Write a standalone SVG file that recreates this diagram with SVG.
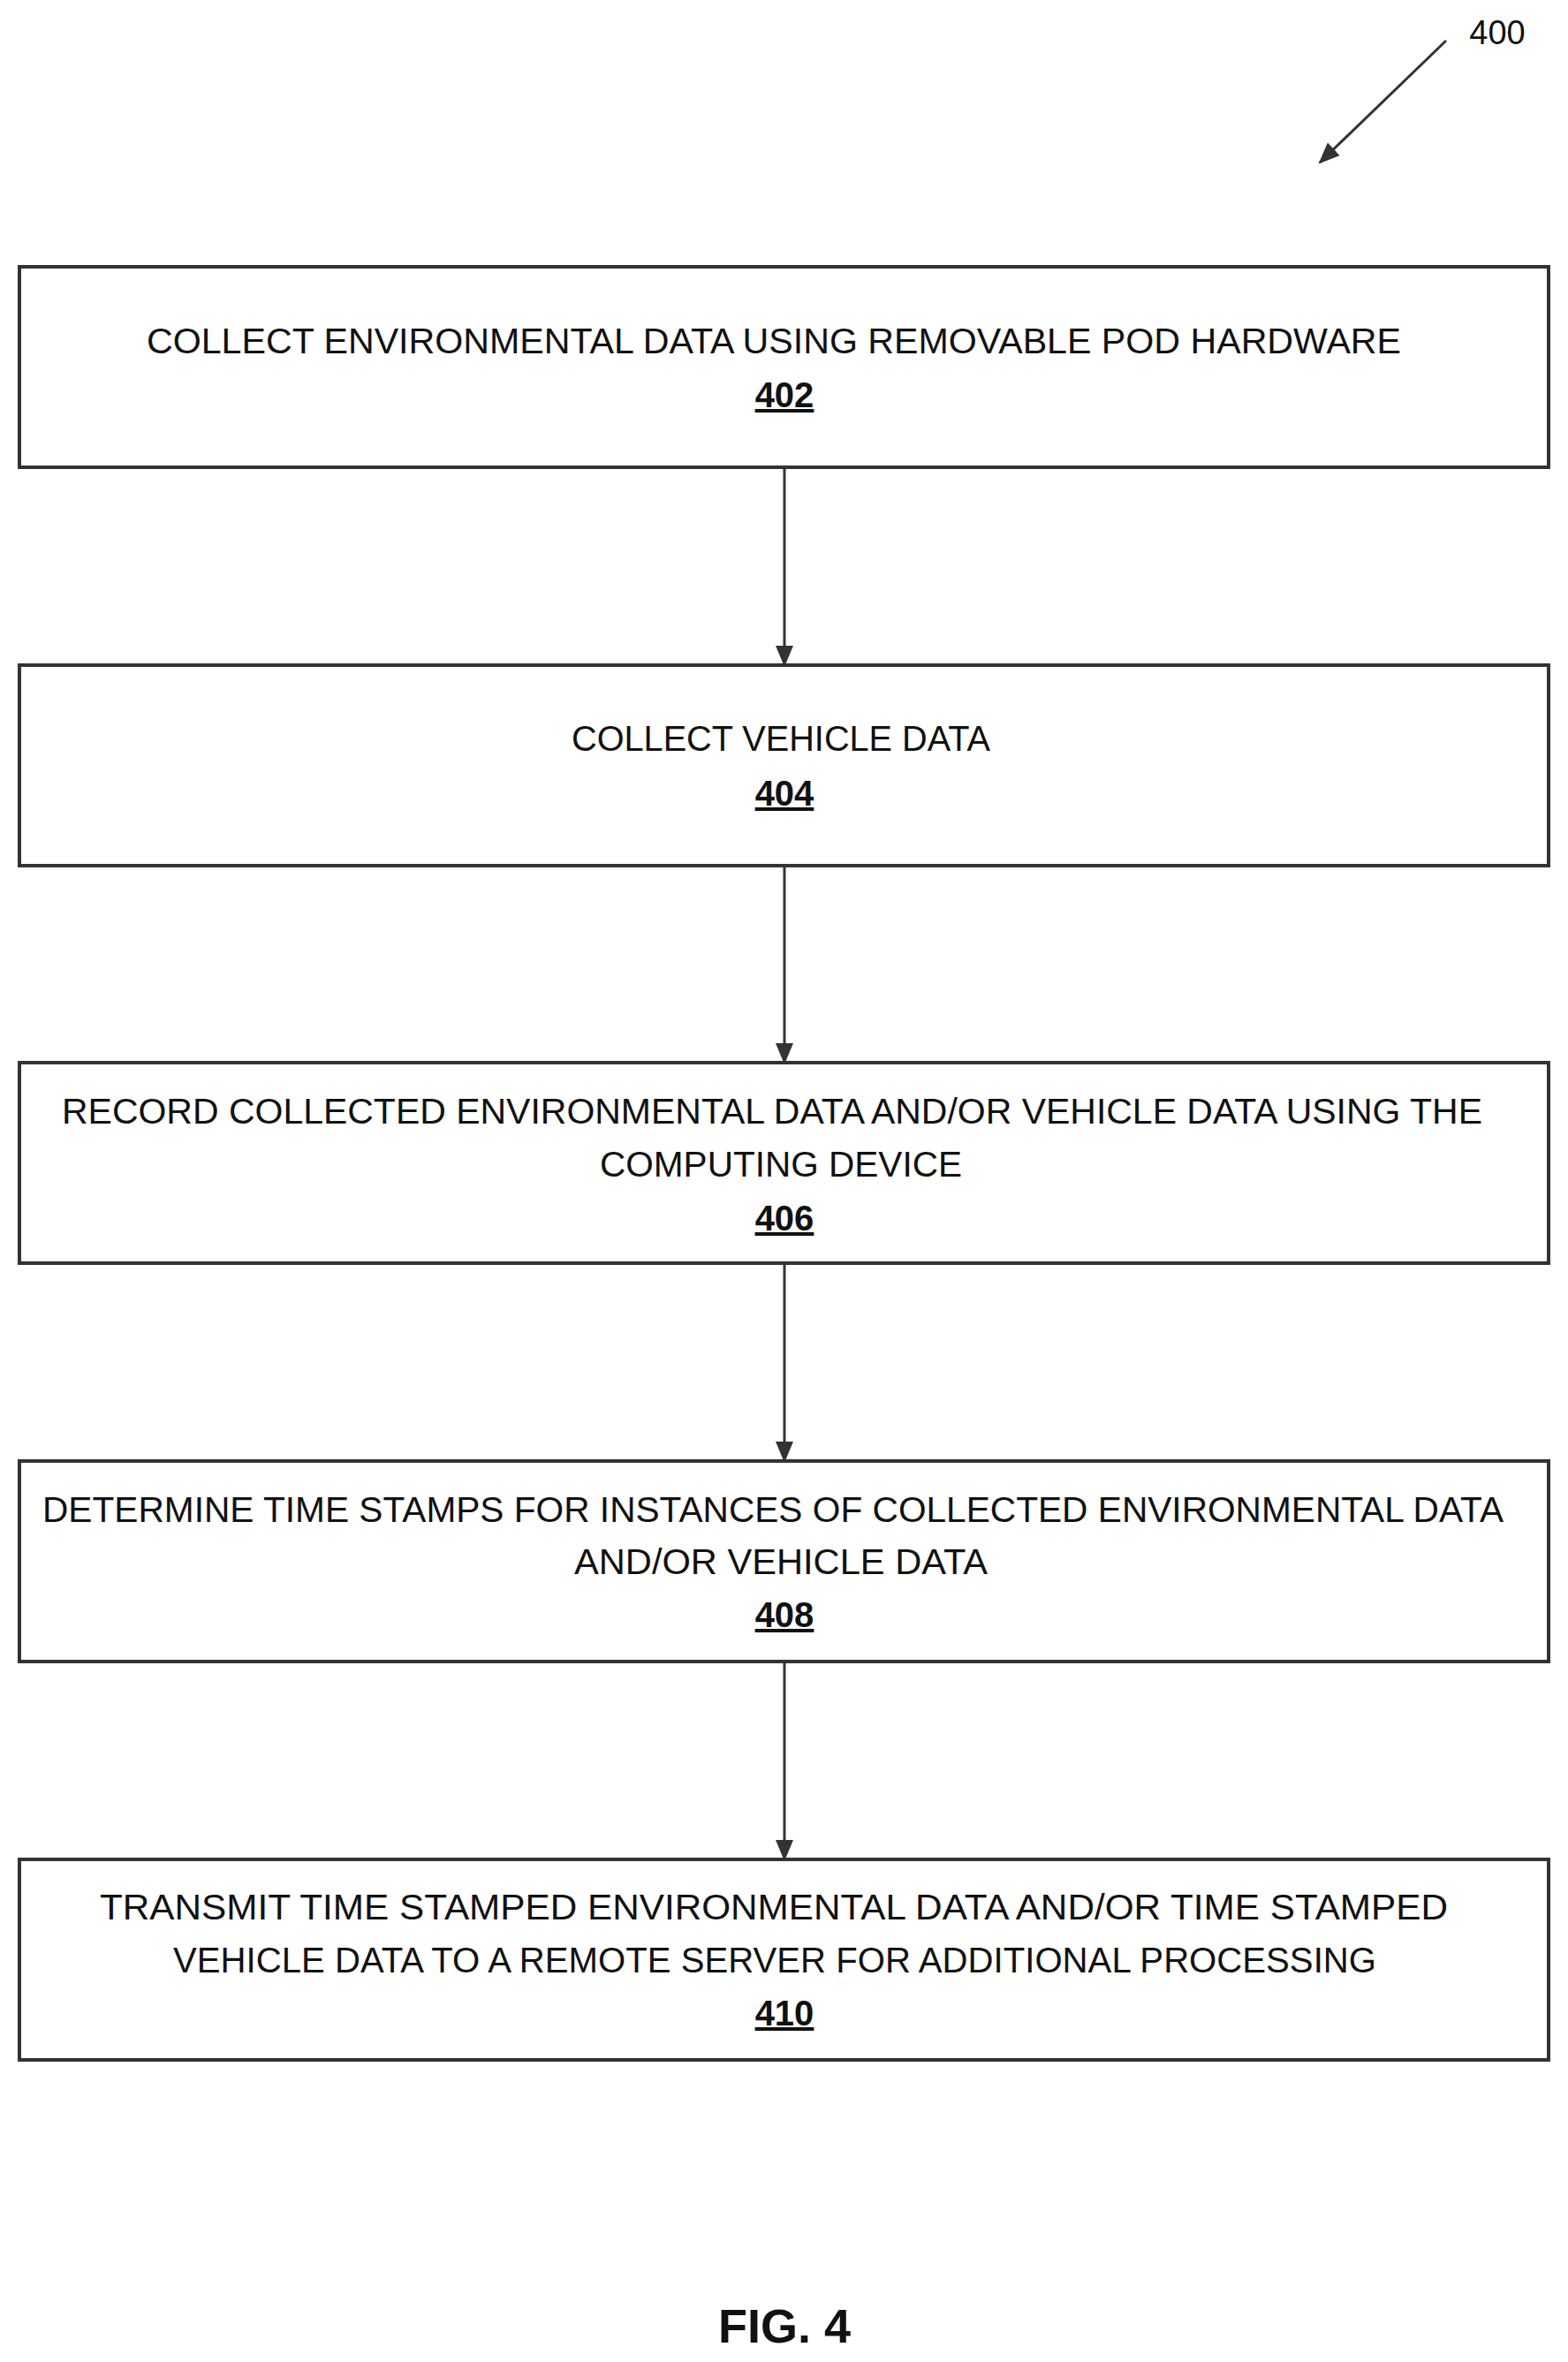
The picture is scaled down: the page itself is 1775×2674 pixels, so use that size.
<svg xmlns="http://www.w3.org/2000/svg" width="1775" height="2674" viewBox="0 0 1775 2674">
<style>
.b{fill:#fff;stroke:#333;stroke-width:4}
.t{font-family:"Liberation Sans",Arial,sans-serif;font-size:40px;fill:#111;text-anchor:middle}
.n{font-family:"Liberation Sans",Arial,sans-serif;font-size:40px;fill:#111;text-anchor:middle;text-decoration:underline;font-weight:bold}
.c{stroke:#333;stroke-width:3;fill:none;marker-end:url(#a)}
</style>
<defs><marker id="a" markerWidth="10" markerHeight="10" refX="9" refY="5" orient="auto" markerUnits="userSpaceOnUse" viewBox="0 0 10 10"><path d="M0,0L10,5L0,10z" fill="#333"/></marker>
<marker id="a2" markerWidth="24" markerHeight="24" refX="22" refY="12" orient="auto" markerUnits="userSpaceOnUse" viewBox="0 0 24 24"><path d="M0,2L24,12L0,22z" fill="#333"/></marker></defs>
<g id="connectors">
<path d="M888,529V753" style="stroke:#333;stroke-width:3;marker-end:url(#a2)"/>
<path d="M888,980V1203" style="stroke:#333;stroke-width:3;marker-end:url(#a2)"/>
<path d="M888,1430V1654" style="stroke:#333;stroke-width:3;marker-end:url(#a2)"/>
<path d="M888,1881V2105" style="stroke:#333;stroke-width:3;marker-end:url(#a2)"/>
<path d="M1637,46L1494,184" style="stroke:#333;stroke-width:3;marker-end:url(#a2)"/>
</g>
<text x="1695" y="50" class="t" style="font-size:38px">400</text>
<g id="n402"><rect class="b" x="22" y="302" width="1731" height="227"/>
<text class="t" x="876" y="400" textLength="1420" lengthAdjust="spacingAndGlyphs">COLLECT ENVIRONMENTAL DATA USING REMOVABLE POD HARDWARE</text>
<text class="n" x="888" y="461">402</text></g>
<g id="n404"><rect class="b" x="22" y="753" width="1731" height="227"/>
<text class="t" x="884" y="850" textLength="474" lengthAdjust="spacingAndGlyphs">COLLECT VEHICLE DATA</text>
<text class="n" x="888" y="912">404</text></g>
<g id="n406"><rect class="b" x="22" y="1203" width="1731" height="227"/>
<text class="t" x="874" y="1272" textLength="1608" lengthAdjust="spacingAndGlyphs">RECORD COLLECTED ENVIRONMENTAL DATA AND/OR VEHICLE DATA USING THE</text>
<text class="t" x="884" y="1332" textLength="410" lengthAdjust="spacingAndGlyphs">COMPUTING DEVICE</text>
<text class="n" x="888" y="1393">406</text></g>
<g id="n408"><rect class="b" x="22" y="1654" width="1731" height="227"/>
<text class="t" x="875" y="1723" textLength="1654" lengthAdjust="spacingAndGlyphs">DETERMINE TIME STAMPS FOR INSTANCES OF COLLECTED ENVIRONMENTAL DATA</text>
<text class="t" x="884" y="1782" textLength="468" lengthAdjust="spacingAndGlyphs">AND/OR VEHICLE DATA</text>
<text class="n" x="888" y="1842">408</text></g>
<g id="n410"><rect class="b" x="22" y="2105" width="1731" height="227"/>
<text class="t" x="876" y="2173" textLength="1526" lengthAdjust="spacingAndGlyphs">TRANSMIT TIME STAMPED ENVIRONMENTAL DATA AND/OR TIME STAMPED</text>
<text class="t" x="877" y="2233" textLength="1362" lengthAdjust="spacingAndGlyphs">VEHICLE DATA TO A REMOTE SERVER FOR ADDITIONAL PROCESSING</text>
<text class="n" x="888" y="2293">410</text></g>
<text x="888" y="2652" class="t" style="font-size:54px;font-weight:bold">FIG. 4</text>
</svg>
